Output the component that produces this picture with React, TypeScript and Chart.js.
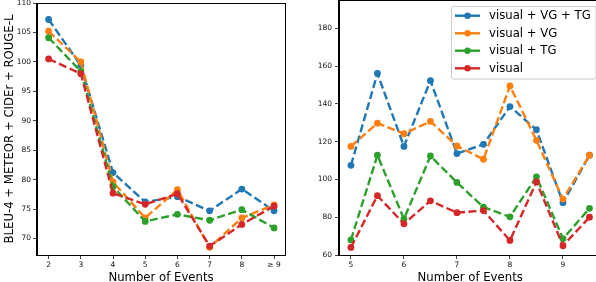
import React, { useEffect, useRef } from "react";
import { Chart, registerables } from "chart.js";
Chart.register(...registerables);

// ---------- data ----------
const seriesNames = ["visual + VG + TG", "visual + VG", "visual + TG", "visual"];
const seriesColors = ["#1f77b4", "#ff7f0e", "#2ca02c", "#d62728"];

const leftCategories = ["2", "3", "4", "5", "6", "7", "8", "≥ 9"];
const leftVisualVGTG = [107.2, 99.4, 81.2, 76.2, 77.1, 74.7, 78.4, 74.7];
const leftVisualVG = [105.2, 100.0, 79.6, 73.5, 78.3, 68.5, 73.5, 75.7];
const leftVisualTG = [104.1, 98.4, 78.8, 72.9, 74.1, 73.1, 74.9, 71.8];
const leftVisual = [100.5, 98.0, 77.7, 75.8, 77.6, 68.7, 72.4, 75.5];
const leftYTicks = [70, 75, 80, 85, 90, 95, 100, 105, 110];

const rightX = [5, 5.5, 6, 6.5, 7, 7.5, 8, 8.5, 9, 9.5];
const rightVisualVGTG = [107.5, 156.1, 117.5, 152.3, 113.7, 118.6, 138.6, 126.3, 87.7, 112.8];
const rightVisualVG = [117.5, 129.8, 124.2, 130.7, 117.7, 110.7, 149.5, 120.7, 89.6, 112.8];
const rightVisualTG = [68.0, 112.8, 79.1, 112.4, 98.4, 85.3, 80.2, 101.4, 68.6, 84.7];
const rightVisual = [64.0, 91.4, 76.5, 88.7, 82.4, 83.5, 67.7, 98.7, 64.9, 80.0];
const rightXTicks = [5, 6, 7, 8, 9];
const rightYTicks = [60, 80, 100, 120, 140, 160, 180];

const FONT = "'DejaVu Sans', sans-serif";

const framePlugin = {
  id: "frame",
  afterDraw(chart: any) {
    const { ctx, chartArea } = chart;
    ctx.save();
    ctx.strokeStyle = "#000";
    ctx.lineWidth = 1;
    ctx.setLineDash([]);
    ctx.strokeRect(
      Math.round(chartArea.left) - 0.5,
      Math.round(chartArea.top) + 0.5,
      Math.round(chartArea.right - chartArea.left) + 1,
      Math.round(chartArea.bottom - chartArea.top)
    );
    ctx.restore();
  },
};

const legendPlugin = {
  id: "mplLegend",
  afterDraw(chart: any) {
    const { ctx } = chart;
    ctx.save();
    const x0 = 151.5, y0 = 6.5, x1 = 296, y1 = 79;
    const r = 2;
    ctx.beginPath();
    ctx.moveTo(x0 + r, y0);
    ctx.lineTo(x1 - r, y0);
    ctx.quadraticCurveTo(x1, y0, x1, y0 + r);
    ctx.lineTo(x1, y1 - r);
    ctx.quadraticCurveTo(x1, y1, x1 - r, y1);
    ctx.lineTo(x0 + r, y1);
    ctx.quadraticCurveTo(x0, y1, x0, y1 - r);
    ctx.lineTo(x0, y0 + r);
    ctx.quadraticCurveTo(x0, y0, x0 + r, y0);
    ctx.closePath();
    ctx.fillStyle = "rgba(255,255,255,0.8)";
    ctx.fill();
    ctx.strokeStyle = "#cccccc";
    ctx.lineWidth = 1;
    ctx.stroke();
    const rows = [15.7, 33.3, 50.7, 68.3];
    seriesNames.forEach((name, i) => {
      const y = rows[i];
      ctx.strokeStyle = seriesColors[i];
      ctx.lineWidth = 2.4;
      ctx.setLineDash([]);
      ctx.beginPath();
      ctx.moveTo(155, y);
      ctx.lineTo(180, y);
      ctx.stroke();
      ctx.fillStyle = seriesColors[i];
      ctx.beginPath();
      ctx.arc(167.5, y, 3.2, 0, Math.PI * 2);
      ctx.fill();
      ctx.fillStyle = "#000";
      ctx.font = `11.7px ${FONT}`;
      ctx.textBaseline = "middle";
      ctx.textAlign = "left";
      ctx.fillText(name, 189, y + 0.5);
    });
    ctx.restore();
  },
};

function makeDatasets(xs: number[], series: number[][]) {
  return series.map((vals, i) => ({
    label: seriesNames[i],
    data: vals.map((v, j) => ({ x: xs[j], y: v })),
    borderColor: seriesColors[i],
    backgroundColor: seriesColors[i],
    pointBackgroundColor: seriesColors[i],
    pointBorderWidth: 0,
    pointRadius: 3.4,
    borderWidth: 2.4,
    borderDash: [8, 3.5],
    fill: false,
    tension: 0,
    order: 3 - i,
  }));
}

function tickFont(size: number) {
  return { family: FONT, size };
}

function zeroPad(s: any) {
  s.paddingTop = 0;
  s.paddingBottom = 0;
  s.paddingLeft = 0;
  s.paddingRight = 0;
}

function LeftChart() {
  const ref = useRef<HTMLCanvasElement>(null);
  useEffect(() => {
    const xs = leftCategories.map((_, i) => i);
    const chart = new Chart(ref.current!, {
      type: "line",
      data: {
        datasets: makeDatasets(xs, [leftVisualVGTG, leftVisualVG, leftVisualTG, leftVisual]) as any,
      },
      options: {
        animation: false,
        responsive: false,
        devicePixelRatio: 1,
        layout: { autoPadding: false, padding: { top: 3, right: 15, left: 0, bottom: 0 } },
        plugins: { legend: { display: false }, tooltip: { enabled: false } },
        scales: {
          x: {
            type: "linear",
            min: -0.36,
            max: 7.34,
            afterFit: (s: any) => { s.height = 27; zeroPad(s); },
            afterBuildTicks: (s: any) => { s.ticks = xs.map((v) => ({ value: v })); },
            ticks: {
              callback: (v: any) => leftCategories[Math.round(Number(v))] ?? "",
              font: tickFont(7.5),
              color: "#111",
              padding: 2,
              maxRotation: 0,
              autoSkip: false,
            },
            grid: { drawOnChartArea: false, drawTicks: true, tickLength: 4, color: "#444" },
            border: { display: true, color: "#000", width: 1 },
            title: {
              display: true,
              text: "Number of Events",
              font: { family: FONT, size: 11.7, lineHeight: 1 },
              color: "#000",
              padding: { top: 0, bottom: -2 },
            },
          },
          y: {
            type: "linear",
            min: 67.2,
            max: 110,
            afterFit: (s: any) => { s.width = 37; zeroPad(s); },
            afterBuildTicks: (s: any) => { s.ticks = leftYTicks.map((v) => ({ value: v })); },
            ticks: { font: tickFont(7.5), color: "#111", padding: 2 },
            grid: { drawOnChartArea: false, drawTicks: true, tickLength: 4, color: "#444" },
            border: { display: true, color: "#000", width: 1 },
            title: {
              display: true,
              text: "BLEU-4 + METEOR + CIDEr + ROUGE-L",
              font: { family: FONT, size: 11.7, lineHeight: 1.2 },
              color: "#000",
              padding: { top: 2.8, bottom: 0 },
            },
          },
        },
      },
      plugins: [framePlugin],
    } as any);
    return () => chart.destroy();
  }, []);
  return <canvas ref={ref} width={300} height={282} style={{ position: "absolute", left: 0, top: 0, width: 300, height: 282 }} />;
}

function RightChart() {
  const ref = useRef<HTMLCanvasElement>(null);
  useEffect(() => {
    const chart = new Chart(ref.current!, {
      type: "line",
      data: {
        datasets: makeDatasets(rightX, [rightVisualVGTG, rightVisualVG, rightVisualTG, rightVisual]) as any,
      },
      options: {
        animation: false,
        responsive: false,
        devicePixelRatio: 1,
        layout: { autoPadding: false, padding: { top: 0, right: 8.6, left: 0, bottom: 0 } },
        plugins: { legend: { display: false }, tooltip: { enabled: false } },
        scales: {
          x: {
            type: "linear",
            min: 4.775,
            max: 9.725,
            afterFit: (s: any) => { s.height = 27; zeroPad(s); },
            afterBuildTicks: (s: any) => { s.ticks = rightXTicks.map((v) => ({ value: v })); },
            ticks: { font: tickFont(7.5), color: "#111", padding: 2, maxRotation: 0, autoSkip: false },
            grid: { drawOnChartArea: false, drawTicks: true, tickLength: 4, color: "#444" },
            border: { display: true, color: "#000", width: 1 },
            title: {
              display: true,
              text: "Number of Events",
              font: { family: FONT, size: 11.7, lineHeight: 1 },
              color: "#000",
              padding: { top: 0, bottom: -2 },
            },
          },
          y: {
            type: "linear",
            min: 60,
            max: 195,
            afterFit: (s: any) => { s.width = 39; zeroPad(s); },
            afterBuildTicks: (s: any) => { s.ticks = rightYTicks.map((v) => ({ value: v })); },
            ticks: { font: tickFont(7.5), color: "#111", padding: 3 },
            grid: { drawOnChartArea: false, drawTicks: true, tickLength: 4, color: "#444" },
            border: { display: true, color: "#000", width: 1 },
          },
        },
      },
      plugins: [framePlugin, legendPlugin],
    } as any);
    return () => chart.destroy();
  }, []);
  return <canvas ref={ref} width={310} height={282} style={{ position: "absolute", left: 300, top: 0, width: 310, height: 282 }} />;
}

export default function App() {
  return (
    <div style={{ position: "fixed", left: 0, top: 0, width: 596, height: 282, overflow: "hidden", background: "#fff" }}>
      <LeftChart />
      <RightChart />
    </div>
  );
}
